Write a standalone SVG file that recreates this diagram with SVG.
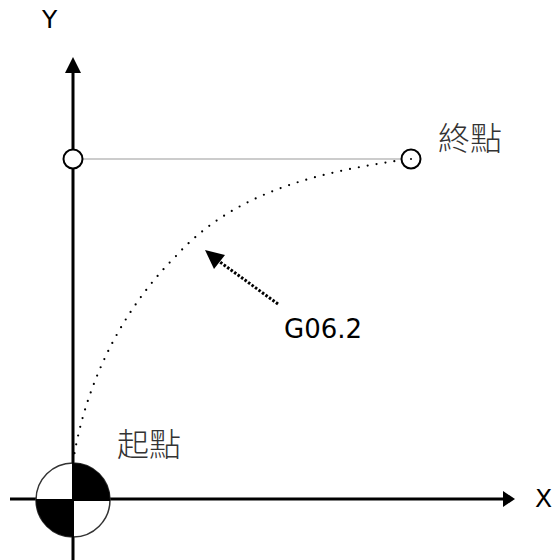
<svg xmlns="http://www.w3.org/2000/svg" width="554" height="560" viewBox="0 0 554 560">
<style>
.axis{stroke:#000;stroke-width:3;fill:none}
.lbl{font-family:"DejaVu Sans","Noto Sans",sans-serif;font-size:25px;fill:#000}
.cjk{font-family:"Noto Sans CJK TC","Noto Sans CJK SC",sans-serif;font-size:32px;font-weight:300;fill:#333}
.pt{fill:#fff;stroke:#000;stroke-width:2}
</style>
<rect width="554" height="560" fill="#fff"/>
<g id="connectors">
<line id="y-axis" class="axis" x1="73" y1="72" x2="73" y2="560"/>
<polygon points="73,57 65,73 81,73" fill="#000"/>
<line id="x-axis" class="axis" x1="10" y1="499" x2="504" y2="499"/>
<polygon points="515,499 503,491 503,507" fill="#000"/>
<line id="guide" x1="82" y1="159" x2="402" y2="159" stroke="#999" stroke-width="1.2"/>
<path id="curve" d="M73,462 C84,392 116,316 176,256 C236,190 322,172 402,160" fill="none" stroke="#000" stroke-width="2.2" stroke-linecap="round" stroke-dasharray="0 9"/>
<line id="g-arrow" x1="278" y1="304" x2="220" y2="262" stroke="#000" stroke-width="3" stroke-dasharray="2.5 1.8"/>
<polygon points="205,250 225,255 214,269" fill="#000"/>
</g>
<g id="origin">
<circle cx="73" cy="500" r="37" fill="#fff" stroke="#333" stroke-width="1.5"/>
<path d="M73,500 L73,463 A37,37 0 0 1 110,500 Z" fill="#000"/>
<path d="M73,500 L73,537 A37,37 0 0 1 36,500 Z" fill="#000"/>
<line x1="73" y1="462" x2="73" y2="538" stroke="#000" stroke-width="2"/>
<line x1="36" y1="500" x2="110" y2="500" stroke="#000" stroke-width="2"/>
</g>
<g id="start-y">
<circle class="pt" cx="73" cy="159" r="9.5"/>
</g>
<g id="end-pt">
<circle class="pt" cx="411" cy="159" r="9.5"/>
<circle cx="411" cy="159" r="1" fill="#000"/>
</g>
<g id="labels">
<text class="lbl" x="42" y="28">Y</text>
<text class="lbl" x="535" y="507">X</text>
<text class="lbl" x="284" y="338" style="font-size:26px">G06.2</text>
<text class="cjk" x="438" y="150">終點</text>
<text class="cjk" x="117" y="456">起點</text>
</g>
</svg>
